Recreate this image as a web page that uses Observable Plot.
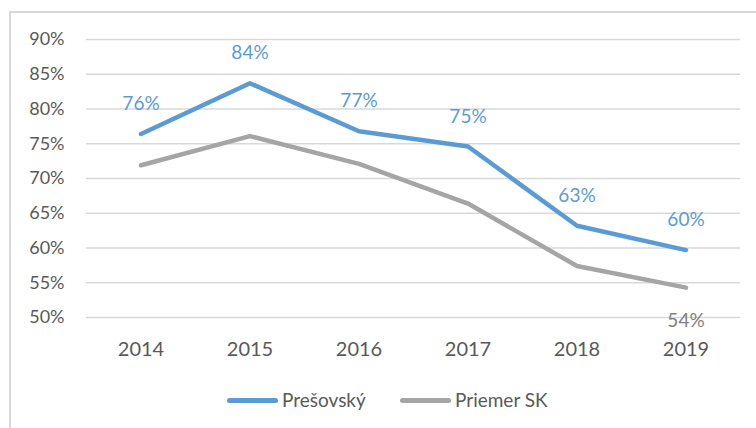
<!DOCTYPE html>
<html>
<head>
<meta charset="utf-8">
<script src="https://cdn.jsdelivr.net/npm/d3@7"></script>
<script src="https://cdn.jsdelivr.net/npm/@observablehq/plot@0.6"></script>
<style>
  html, body { margin: 0; padding: 0; background: #fff; width: 756px; height: 428px; overflow: hidden; }
  #frame { position: absolute; left: 9px; top: 11px; width: 800px; height: 500px; border: 2px solid #d9d9d9; box-sizing: border-box; }
  #chart { position: absolute; left: 0; top: 0; }
  #legend { position: absolute; left: 0; top: 370px; width: 756px; height: 58px; font-family: Lato, "Open Sans", sans-serif; font-size: 19px; color: #595959; }
  .item { position: absolute; top: 19px; display: flex; align-items: center; line-height: 22px; }
  .sw { width: 51px; height: 5px; border-radius: 3px; margin-right: 4px; }
</style>
</head>
<body>
<div id="frame"></div>
<div id="chart"></div>
<div id="legend"></div>
<script>
const years = ["2014", "2015", "2016", "2017", "2018", "2019"];
const presovsky = [76.4, 83.7, 76.8, 74.6, 63.2, 59.7];
const priemerSK = [71.9, 76.1, 72.1, 66.4, 57.4, 54.3];
const seriesNames = ["Prešovský", "Priemer SK"];
const colors = ["#5b9bd5", "#a5a5a5"];
const yTicks = [50, 55, 60, 65, 70, 75, 80, 85, 90];

const rows = [];
years.forEach((y, i) => {
  rows.push({year: y, value: presovsky[i], series: seriesNames[0]});
  rows.push({year: y, value: priemerSK[i], series: seriesNames[1]});
});
const blue = rows.filter(d => d.series === seriesNames[0]);
const gray = rows.filter(d => d.series === seriesNames[1]);
const grayLast = gray.filter(d => d.year === years[years.length - 1]);

const plot = Plot.plot({
  width: 756,
  height: 370,
  marginLeft: 86,
  marginRight: 16,
  marginTop: 39,
  marginBottom: 53,
  style: {fontFamily: "Lato, 'Open Sans', sans-serif", fontSize: "18px", color: "#595959", background: "transparent"},
  x: {type: "band", domain: years, padding: 0, label: null, tickSize: 0, tickPadding: 24},
  y: {domain: [50, 90], ticks: yTicks, tickFormat: d => d + "%", label: null, tickSize: 0, tickPadding: 22},
  marks: [
    Plot.ruleY(yTicks, {stroke: "#d9d9d9", strokeWidth: 1.5}),
    Plot.line(gray, {x: "year", y: "value", stroke: colors[1], strokeWidth: 4.5, strokeLinejoin: "round", strokeLinecap: "round"}),
    Plot.line(blue, {x: "year", y: "value", stroke: colors[0], strokeWidth: 4.5, strokeLinejoin: "round", strokeLinecap: "round"}),
    Plot.text(blue, {x: "year", y: "value", text: d => Math.round(d.value) + "%", dy: -30, fill: "#5b9bd5", fontSize: 19}),
    Plot.text(grayLast, {x: "year", y: "value", text: d => Math.round(d.value) + "%", dy: 33, fill: "#7f7f7f", fontSize: 19})
  ]
});
plot.querySelectorAll("[aria-label='x-axis tick label'] text").forEach(t => t.setAttribute("font-size", 20));
document.getElementById("chart").appendChild(plot);

const legend = document.getElementById("legend");
const lefts = [227, 400];
seriesNames.forEach((name, i) => {
  const item = document.createElement("div");
  item.className = "item";
  item.style.left = lefts[i] + "px";
  const sw = document.createElement("div");
  sw.className = "sw";
  sw.style.background = colors[i];
  const t = document.createElement("span");
  t.textContent = name;
  item.appendChild(sw);
  item.appendChild(t);
  legend.appendChild(item);
});
</script>
</body>
</html>
